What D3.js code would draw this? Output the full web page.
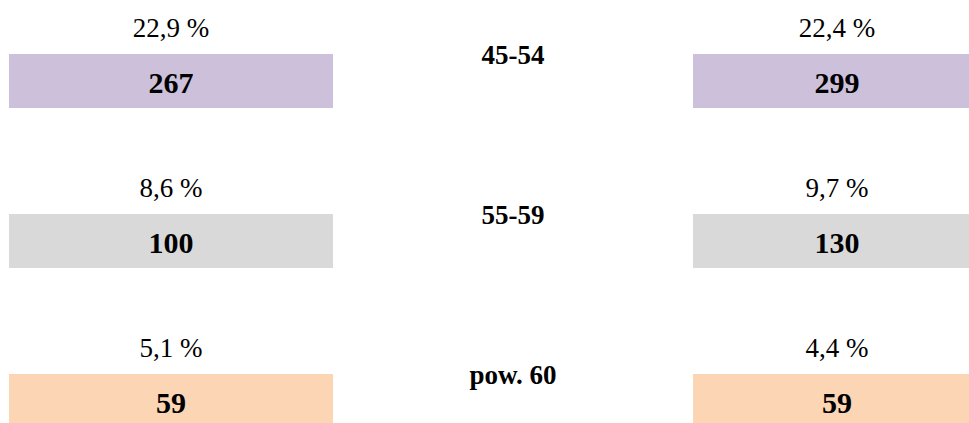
<!DOCTYPE html>
<html>
<head>
<meta charset="utf-8">
<script src="https://cdn.jsdelivr.net/npm/d3@7"></script>
<style>
  html, body { margin: 0; padding: 0; background: #fff; overflow: hidden; }
  svg { display: block; }
</style>
</head>
<body>
<svg id="chart" width="969" height="423"></svg>
<script>
const categories = ["45-54", "55-59", "pow. 60"];
const leftValues = [267, 100, 59];
const rightValues = [299, 130, 59];
const leftPct = ["22,9 %", "8,6 %", "5,1 %"];
const rightPct = ["22,4 %", "9,7 %", "4,4 %"];
const rowColors = ["#CCC0DA", "#D9D9D9", "#FCD5B4"];

const svg = d3.select("#chart");
const font = "'Liberation Serif', 'Times New Roman', serif";

// rows: each row has a pitch of 160px; box top at 54 + i*160
const y = d3.scaleBand().domain(categories).range([-52, 428]).paddingInner(0).paddingOuter(0);
// columns
const x = d3.scaleOrdinal().domain(["left", "right"]).range([9, 693]);
const colW = { left: 324, right: 288 };

const sides = [
  { key: "left", values: leftValues, pct: leftPct },
  { key: "right", values: rightValues, pct: rightPct }
];

const rows = svg.selectAll("g.row").data(categories).join("g")
  .attr("class", "row")
  .attr("transform", d => `translate(0,${y(d)})`);

sides.forEach(s => {
  const cx = x(s.key) + colW[s.key] / 2;
  rows.append("rect")
    .attr("x", x(s.key))
    .attr("y", 106)
    .attr("width", colW[s.key])
    .attr("height", 54)
    .attr("fill", (d, i) => rowColors[i]);
  rows.append("text")
    .attr("x", cx)
    .attr("y", 88.5)
    .attr("text-anchor", "middle")
    .attr("font-family", font)
    .attr("font-size", 27)
    .attr("fill", "#000")
    .text((d, i) => s.pct[i]);
  rows.append("text")
    .attr("x", cx)
    .attr("y", 144.5)
    .attr("text-anchor", "middle")
    .attr("font-family", font)
    .attr("font-size", 30)
    .attr("font-weight", "bold")
    .attr("fill", "#000")
    .text((d, i) => s.values[i]);
});

rows.append("text")
  .attr("x", 513)
  .attr("y", 116)
  .attr("text-anchor", "middle")
  .attr("font-family", font)
  .attr("font-size", 27)
  .attr("font-weight", "bold")
  .attr("fill", "#000")
  .text(d => d);
</script>
</body>
</html>
